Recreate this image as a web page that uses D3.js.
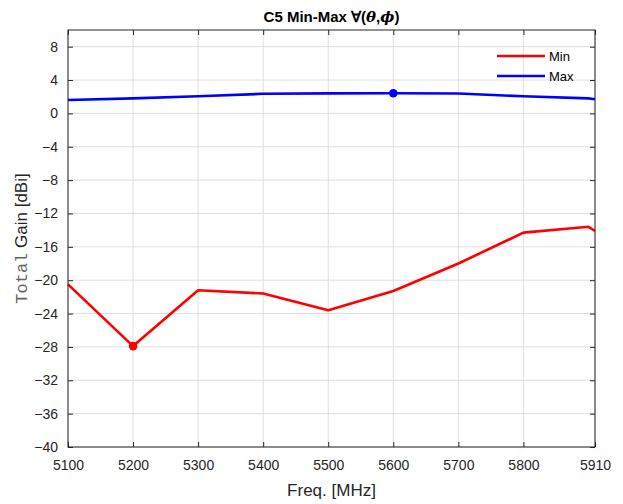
<!DOCTYPE html>
<html>
<head>
<meta charset="utf-8">
<script src="https://cdn.jsdelivr.net/npm/d3@7"></script>
<style>
  html, body { margin: 0; padding: 0; background: #fff; }
  svg { display: block; font-family: "Liberation Sans", Arial, sans-serif; }
</style>
</head>
<body>
<svg id="chart" width="623" height="504"></svg>
<script>
// Frequency samples (MHz) and gain extremes (dBi) over all angles
const freqs = [5100, 5200, 5300, 5400, 5500, 5600, 5700, 5800, 5900, 5910];
const minGain = [-20.5, -27.9, -21.2, -21.6, -23.6, -21.3, -18.0, -14.3, -13.6, -14.1];
const maxGain = [1.6, 1.8, 2.05, 2.35, 2.4, 2.42, 2.38, 2.05, 1.8, 1.7];
const xTicks = [5100, 5200, 5300, 5400, 5500, 5600, 5700, 5800, 5910];
const yTicks = [-40, -36, -32, -28, -24, -20, -16, -12, -8, -4, 0, 4, 8];
const seriesNames = ["Min", "Max"];
const seriesColors = ["#ff0000", "#0000ff"];

const svg = d3.select("#chart");
const m = { left: 68, right: 595, top: 30, bottom: 447 };
const axisColor = "#262626";

const x = d3.scaleLinear().domain([5100, 5910]).range([m.left, m.right]);
const y = d3.scaleLinear().domain([-40, 10]).range([m.bottom, m.top]);

// grid
const grid = svg.append("g");
grid.selectAll("line.vx").data(xTicks).join("line")
  .attr("x1", d => x(d)).attr("x2", d => x(d))
  .attr("y1", m.top).attr("y2", m.bottom)
  .attr("stroke", "#dfdfdf").attr("stroke-width", 1);
grid.selectAll("line.hy").data(yTicks).join("line")
  .attr("x1", m.left).attr("x2", m.right)
  .attr("y1", d => y(d)).attr("y2", d => y(d))
  .attr("stroke", "#dfdfdf").attr("stroke-width", 1);

// series
const series = [minGain, maxGain];
const line = d3.line().x((d, i) => x(freqs[i])).y(d => y(d));
const plot = svg.append("g");
series.forEach((vals, k) => {
  plot.append("path").datum(vals)
    .attr("d", line)
    .attr("fill", "none")
    .attr("stroke", seriesColors[k])
    .attr("stroke-width", 2.6)
    .attr("stroke-linejoin", "round");
});
// marker at the extreme of each series
const iMin = d3.minIndex(minGain);
const iMax = d3.maxIndex(maxGain);
plot.append("circle").attr("cx", x(freqs[iMin])).attr("cy", y(minGain[iMin]))
  .attr("r", 4.3).attr("fill", seriesColors[0]);
plot.append("circle").attr("cx", x(freqs[iMax])).attr("cy", y(maxGain[iMax]))
  .attr("r", 4.3).attr("fill", seriesColors[1]);

// axes
const xAxis = d3.axisBottom(x).tickValues(xTicks).tickSize(-5).tickPadding(13).tickFormat(d3.format("d"));
const yAxis = d3.axisLeft(y).tickValues(yTicks).tickSize(-5).tickPadding(10).tickFormat(d3.format("d"));
const gx = svg.append("g").attr("transform", `translate(0,${m.bottom})`).call(xAxis);
const gy = svg.append("g").attr("transform", `translate(${m.left},0)`).call(yAxis);
[gx, gy].forEach(g => {
  g.select(".domain").remove();
  g.selectAll(".tick line").attr("stroke", axisColor);
  g.selectAll(".tick text").attr("fill", axisColor)
    .style("font-family", "'Liberation Sans', Arial, sans-serif").style("font-size", "14px");
});
// mirrored ticks on top and right
const gxt = svg.append("g").attr("transform", `translate(0,${m.top})`)
  .call(d3.axisTop(x).tickValues(xTicks).tickSize(-5).tickFormat(""));
const gyr = svg.append("g").attr("transform", `translate(${m.right},0)`)
  .call(d3.axisRight(y).tickValues(yTicks).tickSize(-5).tickFormat(""));
[gxt, gyr].forEach(g => {
  g.select(".domain").remove();
  g.selectAll(".tick line").attr("stroke", axisColor);
});
// box
svg.append("rect").attr("x", m.left).attr("y", m.top)
  .attr("width", m.right - m.left).attr("height", m.bottom - m.top)
  .attr("fill", "none").attr("stroke", axisColor).attr("stroke-width", 1);

// title
const title = svg.append("text").attr("x", (m.left + m.right) / 2).attr("y", 22)
  .attr("text-anchor", "middle").attr("fill", "#000")
  .style("font-size", "15px").style("font-weight", "bold");
title.append("tspan").text("C5 Min-Max ∀(");
title.append("tspan").text("θ").style("font-family", "'DejaVu Serif', serif").style("font-style", "italic");
title.append("tspan").text(",");
title.append("tspan").text("ϕ").style("font-family", "'DejaVu Serif', serif").style("font-style", "italic");
title.append("tspan").text(")");

// axis labels
svg.append("text").attr("x", (m.left + m.right) / 2).attr("y", 496)
  .attr("text-anchor", "middle").attr("fill", axisColor)
  .style("font-size", "17px").text("Freq. [MHz]");
const yl = svg.append("text")
  .attr("transform", `translate(27,${(m.top + m.bottom) / 2}) rotate(-90)`)
  .attr("text-anchor", "middle").attr("fill", axisColor).style("font-size", "17px");
yl.append("tspan").text("Total").style("font-family", "'Liberation Mono', 'Courier New', monospace").attr("fill", "#666");
yl.append("tspan").text(" Gain [dBi]");

// legend
const lg = svg.append("g");
seriesNames.forEach((name, k) => {
  const ly = 56 + k * 20;
  lg.append("line").attr("x1", 497).attr("x2", 545).attr("y1", ly).attr("y2", ly)
    .attr("stroke", seriesColors[k]).attr("stroke-width", 2.6);
  lg.append("text").attr("x", 549).attr("y", ly + 4.5).attr("fill", "#000")
    .style("font-size", "13px").text(name);
});
</script>
</body>
</html>
